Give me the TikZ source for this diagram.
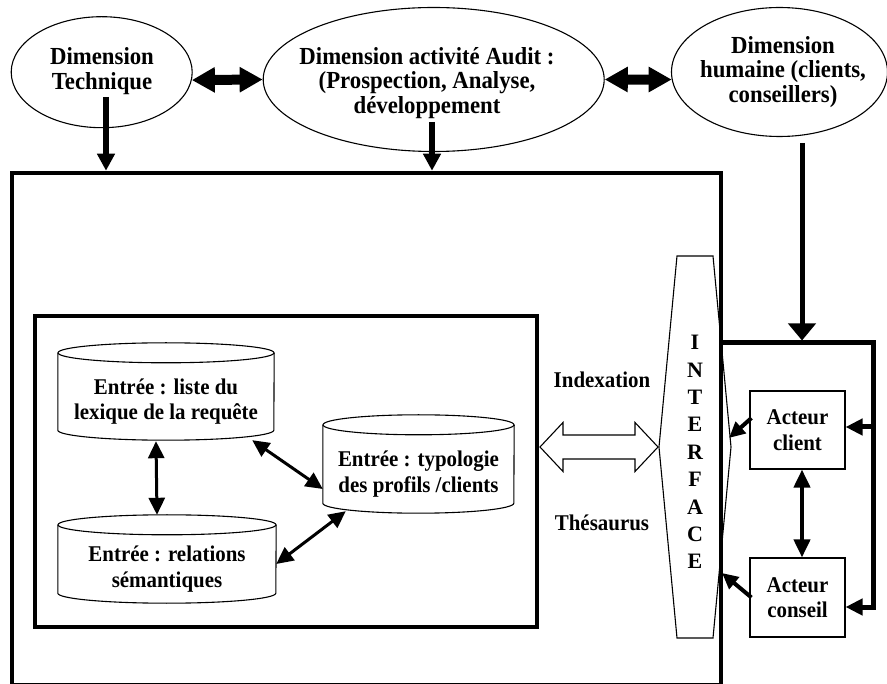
\documentclass[tikz,border=0pt]{standalone}
\usepackage{fontspec}
\setmainfont{Liberation Serif}
\newfontfamily\narrowserif{Liberation Serif}[FakeStretch=0.93]
\usetikzlibrary{arrows.meta,calc,shapes.geometric}

% outline of a database drum around a named body node (#1), half width #2
\newcommand{\drumoutline}[2]{%
  \draw[thinline] ($(#1.north west)+(0,-10)$) -- ($(#1.south west)+(0,-10)$)
    arc[start angle=180, end angle=0, x radius=#2, y radius=10]
    -- ($(#1.north east)+(0,-10)$);
  \draw[thinline] ($(#1.north)+(0,-10)$) ellipse[x radius=#2, y radius=10];
}

\begin{document}
\begin{tikzpicture}[x=1pt,y=-1pt,
  thinline/.style={line width=1.1pt},
  lbl/.style={font=\narrowserif\bfseries\fontsize{22.5}{25.5}\selectfont, align=center, inner sep=0pt},
  biglbl/.style={font=\narrowserif\bfseries\fontsize{24.5}{24.5}\selectfont, align=center, inner sep=0pt},
  dimell/.style={draw, ellipse, line width=1.1pt, inner sep=0pt},
  frame/.style={draw, rectangle, inner sep=0pt},
  actbox/.style={lbl, draw, rectangle, line width=1.1pt, minimum width=95pt},
  drumbody/.style={lbl, rectangle},
  fatdbl/.style={line width=10pt, {Triangle[length=23pt,width=24pt]}-{Triangle[length=23pt,width=24pt]}},
  downA/.style={line width=6pt, -{Triangle[length=17pt,width=17pt]}},
  downB/.style={line width=5pt, -{Triangle[length=17pt,width=27pt]}},
  feed/.style={line width=5pt, -{Triangle[length=17pt,width=16pt]}},
  actlink/.style={line width=4pt, {Triangle[length=18pt,width=16pt]}-{Triangle[length=18pt,width=16pt]}},
  toif/.style={line width=4pt, -{Triangle[length=16pt,width=15pt]}},
  drumlink/.style={line width=3pt, {Triangle[length=17pt,width=16pt]}-{Triangle[length=17pt,width=16pt]}},
]
\useasboundingbox (0,0) rectangle (887,684);

% the three dimensions
\node[dimell, minimum width=181pt, minimum height=111pt] (dt) at (101.7,72.2) {};
\node[dimell, minimum width=341pt, minimum height=144pt] (da) at (433.7,79.5) {};
\node[dimell, minimum width=216pt, minimum height=129pt] (dh) at (779.5,72) {};
\node[biglbl] (dtT) at (102,71) {Dimension\\Technique};
\node[biglbl] (daT) at (427,83) {Dimension activité Audit :\\(Prospection, Analyse,\\développement};
\node[biglbl] (dhT) at (783,72) {Dimension\\humaine (clients,\\conseillers)};

\draw[fatdbl] (dt.-5) -- (da.west);
\draw[fatdbl] (da.east) -- (dh.184);

% main frame and inner frame
\node[frame, line width=4.5pt, minimum width=709pt, minimum height=512pt] (main) at (366.5,429) {};
\node[frame, line width=4pt, minimum width=502pt, minimum height=311pt] (inner) at (286,471.5) {};

\coordinate (dtS) at (106,97);
\coordinate (daS) at (432,122);
\coordinate (dhS) at (802,143);
\draw[downA] (dtS) -- (dtS |- main.north);
\draw[downA] (daS) -- (daS |- main.north);

% database drums
\node[drumbody, minimum width=216pt, minimum height=77pt] (c1) at (166,401.5) {Entrée : liste du\\lexique de la requête};
\node[drumbody, minimum width=191pt, minimum height=78pt] (c2) at (418.5,474) {Entrée : typologie\\des profils /clients};
\node[drumbody, minimum width=218pt, minimum height=68pt] (c3) at (167,569) {Entrée : relations\\sémantiques};
\drumoutline{c1}{108}
\drumoutline{c2}{95.5}
\drumoutline{c3}{109}

\draw[drumlink] ($(c1.south)+(-10,1)$) -- ($(c3.north)+(-10,-20)$);
\draw[drumlink] ($(c1.south east)+(-22,0)$) -- ($(c2.west)+(0,15)$);
\draw[drumlink] ($(c3.east)+(0,-5)$) -- ($(c2.south west)+(23,-2)$);

% link between the base and the interface
\coordinate (lkL) at (540,447);
\coordinate (lkR) at (658,447);
\draw[thinline, line join=miter] (lkL) -- ++(23,-24.5) -- ++(0,12.5) -- ($(lkR)+(-23,-12)$) -- ++(0,-12.5)
  -- (lkR) -- ++(-23,24.5) -- ++(0,-12.5) -- ($(lkL)+(23,12)$) -- ++(0,12.5) -- cycle;
\node[lbl] (idx) at (602,380) {Indexation};
\node[lbl] (ths) at (602,523) {Thésaurus};

% interface
\coordinate (hx1) at (677,256);
\coordinate (hx2) at (713,256);
\coordinate (hx3) at (731,447);
\coordinate (hx4) at (713,638);
\coordinate (hx5) at (677,638);
\coordinate (hx6) at (659,447);
\draw[thinline] (hx1) -- (hx2) -- (hx3) -- (hx4) -- (hx5) -- (hx6) -- cycle;
\node[lbl, font=\bfseries\fontsize{22}{27.4}\selectfont] (iface) at (695,452) {I\\N\\T\\E\\R\\F\\A\\C\\E};

% actors
\node[actbox, minimum height=78pt] (client) at (797.5,430) {Acteur\\client};
\node[actbox, minimum height=79pt] (conseil) at (797.5,597.5) {Acteur\\conseil};

\coordinate (bkA) at (721,343);
\coordinate (bkB) at (873,343);
\coordinate (bkC) at (873,607);
\coordinate (bkM) at (873,427);
\draw[downB] (dhS) -- ($(dhS |- bkA)+(0,-2.5)$);
\draw[feed, line join=miter] (bkA) -- (bkB) -- (bkC) -- (bkC -| conseil.east);
\draw[feed] (bkM) -- (bkM -| client.east);
\draw[actlink] ($(client.south)+(4.5,0)$) -- ($(conseil.north)+(4.5,0)$);

\coordinate (ifA) at (729,438);
\coordinate (ifB) at (722,573);
\draw[toif] ($(client.west)+(2,-12)$) -- (ifA);
\draw[toif] ($(conseil.west)+(2,0)$) -- (ifB);
\end{tikzpicture}
\end{document}
